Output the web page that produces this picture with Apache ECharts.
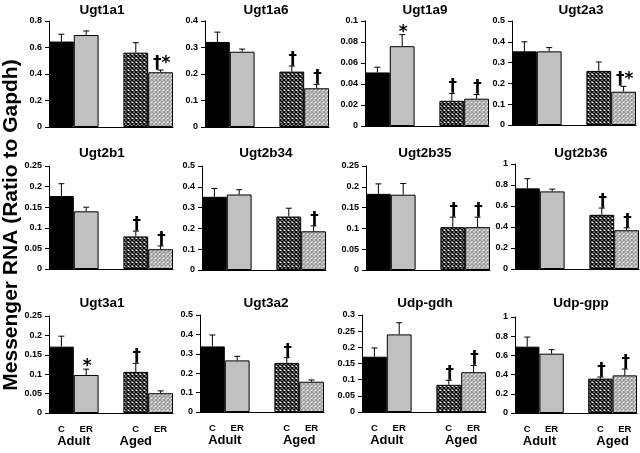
<!DOCTYPE html>
<html><head><meta charset="utf-8">
<script src="https://cdn.jsdelivr.net/npm/echarts@6/dist/echarts.min.js"></script>
<style>html,body{margin:0;padding:0;background:#fff}#c{width:640px;height:453px}</style>
</head><body><div id="c"></div>
<script>
// ---------- data ----------
const genes = ["Ugt1a1","Ugt1a6","Ugt1a9","Ugt2a3","Ugt2b1","Ugt2b34","Ugt2b35","Ugt2b36","Ugt3a1","Ugt3a2","Udp-gdh","Udp-gpp"];
const categories = ["C","ER","","C","ER"];
const groupLabels = ["Adult","Aged"];
const yAxisTitle = "Messenger RNA (Ratio to Gapdh)";
const adultC     = [0.645,0.321,0.051,0.354,0.177,0.352,0.183,0.768,0.171,0.338,0.171,0.691];
const adultCErr  = [0.055,0.037,0.005,0.046,0.030,0.040,0.024,0.092,0.027,0.059,0.027,0.100];
const adultER    = [0.694,0.284,0.076,0.354,0.140,0.363,0.181,0.739,0.098,0.266,0.240,0.618];
const adultERErr = [0.031,0.010,0.011,0.018,0.010,0.023,0.027,0.022,0.015,0.021,0.036,0.042];
const agedC      = [0.561,0.209,0.024,0.260,0.079,0.257,0.103,0.516,0.106,0.253,0.084,0.358];
const agedCErr   = [0.075,0.021,0.007,0.043,0.013,0.040,0.024,0.064,0.022,0.027,0.014,0.017];
const agedER     = [0.413,0.146,0.026,0.160,0.048,0.186,0.103,0.369,0.051,0.156,0.123,0.392];
const agedERErr  = [0.017,0.015,0.004,0.026,0.008,0.026,0.024,0.023,0.006,0.009,0.021,0.066];
const yMax  = [0.8,0.4,0.1,0.5,0.25,0.5,0.25,1,0.25,0.5,0.3,1];
const yStep = [0.2,0.1,0.02,0.1,0.05,0.1,0.05,0.2,0.05,0.1,0.05,0.2];
const sigAdultER = ["","","*","","","","","","*","","",""];
const sigAgedC   = ["","†","†","","†","","†","†","†","†","†","†"];
const sigAgedER  = ["†*","†","†","†*","†","†","†","†","","","†","†"];

// ---------- layout ----------
const gridLeft = [49,205,365,512, 49,202,366,515, 49,200,362,515];
const gridW = 124;
const gridTop = [21,21,21,21, 166,166,166,164, 316,315,315,317];
const gridZero = [127,127,126,125, 269,270,270,269, 413,412,412,413];
const titleX = [102,266,425,581];
const titleY = [3,146,296];
const agedPos = [3.5,4,4,4];
const FONT = "Arial, 'Liberation Sans', sans-serif";
const SYMFONT = "'DejaVu Sans', Arial, sans-serif";

function hatch(fg, bg, size, lw){
  const c = document.createElement('canvas'); c.width = size; c.height = size;
  const g = c.getContext('2d'); g.fillStyle = bg; g.fillRect(0,0,size,size);
  g.strokeStyle = fg; g.lineWidth = lw; g.beginPath();
  for (let k=-1;k<=1;k++){
    g.moveTo(k*size,0); g.lineTo(k*size+size,size);
    g.moveTo(k*size+size,0); g.lineTo(k*size,size);
  }
  g.stroke(); return c;
}
const patBlack = {image: hatch('#000','#fff',4,1.5), repeat:'repeat'};
const patGray  = {image: hatch('#999','#eee',4,1.4), repeat:'repeat'};

const grids=[], xAxes=[], yAxes=[], series=[], titles=[];
genes.forEach((g,i)=>{
  const row = Math.floor(i/4), col = i%4;
  grids.push({left:gridLeft[i], top:gridTop[i], width:gridW, height:gridZero[i]-gridTop[i]});
  titles.push({text:g, left:titleX[col], top:titleY[row], textAlign:'center', padding:0,
    textStyle:{fontSize:13.5, fontWeight:'bold', fontFamily:FONT, color:'#000'}});
  xAxes.push({type:'category', gridIndex:i, data:categories,
    axisLine:{lineStyle:{color:'#000', width:1}}, axisTick:{show:false},
    axisLabel:{show: row===2, interval:0, margin:11, fontSize:9.5, fontWeight:'bold', fontFamily:FONT, color:'#000'}});
  yAxes.push({type:'value', gridIndex:i, min:0, max:yMax[i], interval:yStep[i],
    axisLine:{show:true, lineStyle:{color:'#000', width:1}},
    axisTick:{show:true, length:4, lineStyle:{color:'#000'}},
    splitLine:{show:false},
    axisLabel:{margin:7, fontSize:9, fontWeight:'bold', fontFamily:FONT, color:'#000',
      formatter: v => String(+(+v).toFixed(3))}});
  const xi = xAxes.length-1, yi = yAxes.length-1;
  if (row===2){
    const ap = agedPos[col];
    xAxes.push({type:'value', gridIndex:i, min:0, max:5, interval:0.5, position:'bottom',
      axisLine:{show:false}, axisTick:{show:false}, splitLine:{show:false},
      axisLabel:{margin:22, fontSize:13, fontWeight:'bold', fontFamily:FONT, color:'#000',
        formatter: v => Math.abs(v-1)<1e-6 ? groupLabels[0] : (Math.abs(v-ap)<1e-6 ? groupLabels[1] : '')}});
  }
  series.push({type:'bar', xAxisIndex:xi, yAxisIndex:yi, barWidth:'100%', barGap:'0%', barCategoryGap:'0%',
    itemStyle:{borderColor:'#000', borderWidth:1},
    data:[{value:adultC[i], itemStyle:{color:'#000'}},
          {value:adultER[i], itemStyle:{color:'#c0c0c0'}},
          '-',
          {value:agedC[i], itemStyle:{color:patBlack}},
          {value:agedER[i], itemStyle:{color:patGray}}],
    silent:true, animation:false});
  const sigs = ['', sigAdultER[i], sigAgedC[i], sigAgedER[i]];
  series.push({type:'custom', xAxisIndex:xi, yAxisIndex:yi, animation:false, silent:true,
    data:[[0,adultC[i],adultCErr[i]],[1,adultER[i],adultERErr[i]],[3,agedC[i],agedCErr[i]],[4,agedER[i],agedERErr[i]]],
    renderItem:(params, api)=>{
      const x = api.value(0), v = api.value(1), e = api.value(2);
      const p0 = api.coord([x, v]), p1 = api.coord([x, v+e]);
      const s = sigs[params.dataIndex];
      const children = [
        {type:'line', shape:{x1:p0[0], y1:p0[1], x2:p1[0], y2:p1[1]}, style:{stroke:'#000', lineWidth:1}},
        {type:'line', shape:{x1:p1[0]-3, y1:p1[1], x2:p1[0]+3, y2:p1[1]}, style:{stroke:'#000', lineWidth:1}}
      ];
      if (s) children.push({type:'text', style:{text:s, x:p1[0]+1, y:p1[1]+(s==='*'?6:2),
        align:'center', verticalAlign:'bottom', font:'bold 17px '+SYMFONT, fill:'#000'}});
      return {type:'group', children};
    }});
});

const chart = echarts.init(document.getElementById('c'), null, {renderer:'canvas'});
chart.setOption({
  animation:false,
  title: titles, grid: grids, xAxis: xAxes, yAxis: yAxes, series: series,
  graphic:[{type:'text', x:11, y:225, rotation:Math.PI/2,
    style:{text:yAxisTitle, align:'center', verticalAlign:'middle', font:'bold 21px '+FONT, fill:'#000'}}]
});
</script></body></html>
